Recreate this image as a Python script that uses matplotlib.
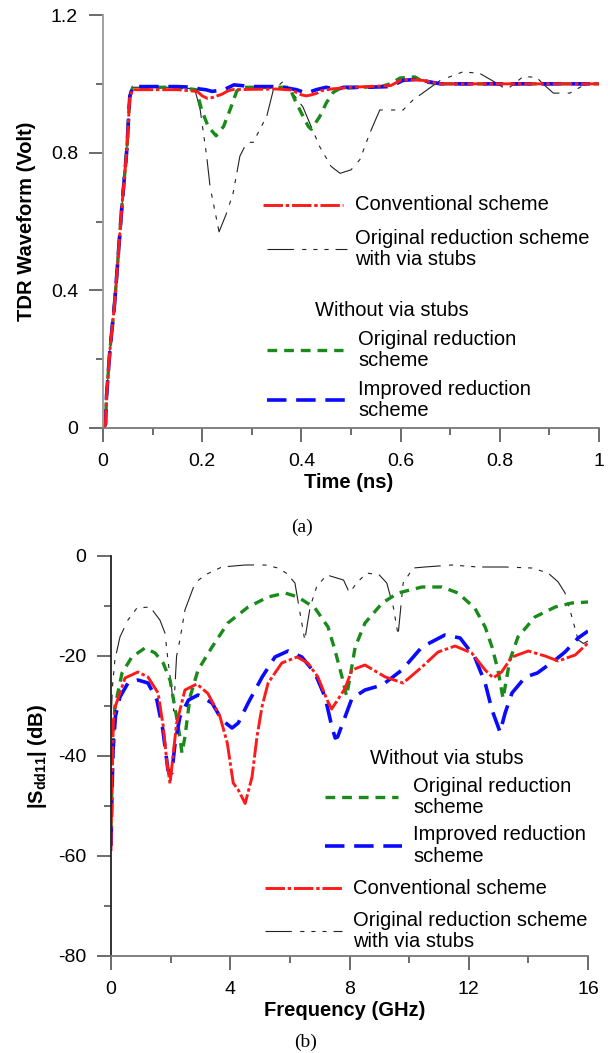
import matplotlib
matplotlib.use("Agg")
import matplotlib.pyplot as plt

plt.rcParams['font.family'] = ['Liberation Sans', 'DejaVu Sans']
plt.rcParams['mathtext.fontset'] = 'custom'
plt.rcParams['mathtext.rm'] = 'Liberation Sans'
plt.rcParams['mathtext.bf'] = 'Liberation Sans:bold'
plt.rcParams['lines.scale_dashes'] = False
plt.rcParams['axes.unicode_minus'] = False

# ---- (a) TDR waveforms ----
t_conv = [0, 0.005, 0.007, 0.014, 0.024, 0.03, 0.038, 0.048, 0.054, 0.06, 0.1, 0.15, 0.19, 0.2, 0.21,
          0.22, 0.23, 0.24, 0.25, 0.26, 0.3, 0.35, 0.38, 0.39, 0.4, 0.41, 0.42, 0.43, 0.44, 0.46, 0.5,
          0.55, 0.58, 0.6, 0.62, 0.645, 0.68, 0.8, 0.9, 1.0]
v_conv = [0, 0.01, 0.09, 0.227, 0.372, 0.488, 0.643, 0.808, 0.963, 0.983, 0.983, 0.983, 0.978, 0.965,
          0.958, 0.96, 0.965, 0.97, 0.978, 0.983, 0.984, 0.985, 0.982, 0.975, 0.968, 0.965, 0.968, 0.972,
          0.98, 0.985, 0.99, 0.993, 0.995, 1.01, 1.012, 1.01, 1.0, 1.0, 1.0, 1.0]

t_stub = [0, 0.005, 0.007, 0.014, 0.024, 0.03, 0.038, 0.048, 0.054, 0.06, 0.1, 0.15, 0.185, 0.196,
          0.209, 0.216, 0.234, 0.248, 0.262, 0.276, 0.29, 0.303, 0.317, 0.33, 0.343, 0.363, 0.377, 0.403,
          0.437, 0.46, 0.478, 0.5, 0.518, 0.538, 0.558, 0.605, 0.625, 0.68, 0.726, 0.76, 0.79, 0.814,
          0.847, 0.874, 0.887, 0.908, 0.941, 0.968, 0.98, 1.0]
v_stub = [0, 0.01, 0.09, 0.227, 0.372, 0.488, 0.643, 0.808, 0.963, 0.99, 0.99, 0.99, 0.985, 0.924,
          0.79, 0.70, 0.57, 0.62, 0.68, 0.79, 0.83, 0.83, 0.87, 0.905, 0.98, 1.007, 0.983, 0.933,
          0.817, 0.76, 0.74, 0.75, 0.78, 0.857, 0.924, 0.924, 0.953, 1.01, 1.035, 1.03, 1.005, 0.983,
          1.021, 1.019, 1.0, 0.973, 0.973, 0.995, 1.0, 1.0]

t_orig = [0, 0.005, 0.007, 0.014, 0.024, 0.03, 0.038, 0.048, 0.054, 0.06, 0.1, 0.15, 0.188, 0.199,
          0.212, 0.228, 0.243, 0.256, 0.27, 0.283, 0.33, 0.376, 0.387, 0.4, 0.414, 0.42, 0.437, 0.45,
          0.464, 0.477, 0.52, 0.56, 0.579, 0.599, 0.629, 0.645, 0.68, 0.8, 0.9, 1.0]
v_orig = [0, 0.01, 0.09, 0.227, 0.372, 0.488, 0.643, 0.808, 0.963, 0.99, 0.99, 0.99, 0.983, 0.924,
          0.876, 0.849, 0.876, 0.924, 0.98, 0.99, 0.99, 0.99, 0.953, 0.915, 0.876, 0.868, 0.905, 0.944,
          0.975, 0.986, 0.99, 0.992, 1.0, 1.017, 1.02, 1.006, 1.0, 1.0, 1.0, 1.0]

t_impr = [0, 0.005, 0.007, 0.014, 0.024, 0.03, 0.038, 0.048, 0.054, 0.06, 0.1, 0.15, 0.183, 0.195,
          0.207, 0.22, 0.244, 0.264, 0.3, 0.355, 0.39, 0.41, 0.43, 0.45, 0.471, 0.485, 0.53, 0.579,
          0.605, 0.632, 0.68, 0.8, 0.9, 1.0]
v_impr = [0, 0.01, 0.09, 0.227, 0.372, 0.488, 0.643, 0.808, 0.963, 0.992, 0.992, 0.992, 0.99, 0.985,
          0.983, 0.978, 0.983, 0.997, 0.992, 0.992, 0.983, 0.973, 0.983, 0.99, 0.983, 0.99, 0.99, 0.992,
          1.01, 1.013, 1.0, 1.0, 1.0, 1.0]

# ---- (b) |Sdd11| ----
f_conv = [0, 0.03, 0.08, 0.15, 0.3, 0.47, 0.9, 1.24, 1.58, 1.75, 1.88, 1.98, 2.08, 2.2, 2.48, 2.88,
          3.25, 3.65, 3.9, 4.1, 4.27, 4.5, 4.73, 4.9, 5.07, 5.27, 5.73, 6.24, 6.6, 6.94, 7.25, 7.4, 7.6,
          7.85, 8.08, 8.52, 9.2, 9.8, 10.43, 10.97, 11.54, 12.1, 12.55, 12.82, 13.1, 13.45, 14.0, 14.56,
          15.0, 15.57, 16.0]
s_conv = [-59, -45, -33, -30, -27.4, -24.4, -23.2, -24.2, -27.4, -34, -41.5, -45.5, -40, -33.5, -26.8,
          -25.6, -27.5, -32, -37.4, -45.4, -46.8, -49.5, -44.2, -36, -30, -25.4, -21.4, -20.2, -21.4,
          -24.2, -28.8, -30.6, -28.8, -26.5, -22.8, -21.8, -24.2, -25.4, -22.2, -19.2, -18, -19.4,
          -22.8, -24.4, -23.2, -20.2, -19, -20, -21, -19.8, -17.4]

f_impr = [0, 0.03, 0.07, 0.15, 0.3, 0.57, 0.9, 1.24, 1.54, 1.74, 1.91, 2.04, 2.15, 2.31, 2.6, 2.92,
          3.39, 3.72, 4.06, 4.27, 4.6, 5.07, 5.5, 5.94, 6.4, 6.84, 7.18, 7.41, 7.52, 7.6, 7.85, 8.08,
          8.52, 9.1, 9.76, 10.43, 11.2, 11.71, 12.2, 12.55, 12.78, 13.05, 13.22, 13.45, 13.9, 14.3,
          14.9, 15.23, 15.67, 16.0]
s_impr = [-58, -48, -38.8, -32, -28.2, -25.4, -24.8, -25.4, -28.8, -34.8, -42.8, -43.4, -37.4, -32.2,
          -28.8, -27.8, -29.4, -32.8, -34.4, -33.4, -29.4, -24.2, -20.2, -19, -20.2, -23.4, -28.2,
          -34.2, -36.4, -36.2, -32.2, -28.5, -26.8, -25.8, -22.8, -18.2, -15.8, -16.4, -20.2, -25.4,
          -30.8, -35.2, -31.4, -27.4, -24.2, -23.4, -20.8, -19.2, -16.4, -15]

f_orig = [0, 0.05, 0.13, 0.37, 0.7, 1.14, 1.48, 1.75, 1.98, 2.08, 2.2, 2.31, 2.38, 2.48, 2.65, 2.92,
          3.39, 3.92, 4.6, 5.27, 5.84, 6.27, 6.84, 7.28, 7.51, 7.75, 7.9, 8.02, 8.19, 8.52, 9.1, 9.63,
          10.43, 11.1, 11.64, 12.2, 12.55, 12.78, 12.98, 13.15, 13.38, 13.65, 14.22, 14.9, 15.46, 16.0]
s_orig = [-55, -40, -30.2, -23.4, -20.2, -18.4, -19.4, -21.4, -24.8, -28.2, -32.2, -36.2, -39.4, -36.2,
          -28.2, -22.8, -18.2, -13.4, -10.2, -8.2, -7.4, -8.2, -10.4, -14.2, -18.8, -24.2, -28, -24.2,
          -18.2, -13.4, -9.4, -7.4, -6.2, -6.2, -7.4, -10.4, -14.2, -18.2, -22.8, -28.5, -20.8, -16.2,
          -12.2, -10.2, -9.4, -9.2]

f_stub = [0, 0.05, 0.13, 0.3, 0.57, 0.87, 1.31, 1.64, 1.81, 1.91, 2.04, 2.1, 2.2, 2.31, 2.48, 2.82,
          3.15, 3.72, 4.5, 5.17, 5.6, 5.9, 6.17, 6.34, 6.5, 6.68, 6.9, 7.24, 7.8, 8.0, 8.24, 8.58, 9.0,
          9.25, 9.47, 9.63, 9.8, 10.14, 10.53, 11.44, 12.31, 13.22, 14.12, 14.66, 15.0, 15.23, 15.46,
          15.67, 15.85, 16.0]
s_stub = [-33, -26, -20.8, -16.2, -12.8, -10.4, -10.2, -12.8, -15.4, -20.8, -26.8, -31, -20, -16.8,
          -10.8, -5.4, -3.8, -2.2, -1.8, -1.8, -2.4, -3.5, -5.4, -11.4, -16.8, -10.2, -6.1, -3.8, -4.8,
          -7.4, -5.4, -3.4, -3.8, -5.4, -10.2, -15.8, -5.4, -2.4, -2.2, -1.8, -2.2, -2.2, -2.4, -3.4,
          -5.2, -7.4, -12.2, -16.8, -17.5, -17]

RED = dict(color='#ff1a1a', lw=2.1, dashes=(14, 2, 2.5, 2))
BLACK = dict(color='#222222', lw=0.8, dashes=(19, 6, 3, 5, 3, 5, 3, 5))
GREEN = dict(color='#1a8a1a', lw=2.4, dashes=(7, 5))
BLUE = dict(color='#0a0aff', lw=2.6, dashes=(14, 7))

FS = 14.5

fig = plt.figure(figsize=(6.10, 10.53), dpi=100)


def style_axes(ax, spine_color):
    for s in ['top', 'right']:
        ax.spines[s].set_visible(False)
    ax.spines['left'].set_color(spine_color)
    ax.spines['bottom'].set_color('#777777')
    ax.spines['left'].set_linewidth(1.3)
    ax.spines['bottom'].set_linewidth(1.3)
    ax.tick_params(which='major', direction='out', length=10, width=1.1, color='#444444',
                   labelsize=14, pad=8)
    ax.tick_params(which='minor', direction='out', length=5, width=1.1, color='#444444')


def legend_entry(ax, x0, x1, y, style, label, tx):
    ax.plot([x0, x1], [y, y], transform=ax.transAxes, clip_on=False, **style)
    ax.text(tx, y, label, transform=ax.transAxes, fontsize=FS, va='center', ha='left',
            linespacing=1.15)


# top panel
ax1 = fig.add_axes([103 / 610, 1 - 428 / 1053, 496 / 610, 413 / 1053])
ax1.plot(t_stub, v_stub, **BLACK)
ax1.plot(t_orig, v_orig, **GREEN)
ax1.plot(t_impr, v_impr, **BLUE)
ax1.plot(t_conv, v_conv, **RED)
ax1.set_xlim(0, 1)
ax1.set_ylim(0, 1.2)
ax1.set_xticks([0, 0.2, 0.4, 0.6, 0.8, 1.0])
ax1.set_xticklabels(['0', '0.2', '0.4', '0.6', '0.8', '1'])
ax1.set_xticks([0.1, 0.3, 0.5, 0.7, 0.9], minor=True)
ax1.set_yticks([0, 0.4, 0.8, 1.2])
ax1.set_yticklabels(['0', '0.4', '0.8', '1.2'])
ax1.set_yticks([0.2, 0.6, 1.0], minor=True)
style_axes(ax1, '#999999')
ax1.set_xlabel('Time (ns)', fontsize=FS, fontweight='bold', va='center')
ax1.xaxis.set_label_coords(0.495, -55 / 413)
ax1.set_ylabel('TDR Waveform (Volt)', fontsize=FS, fontweight='bold', va='center')
ax1.yaxis.set_label_coords(-76 / 496, 0.5)

legend_entry(ax1, 0.3226, 0.4839, 0.540, RED, 'Conventional scheme', 0.508)
legend_entry(ax1, 0.3306, 0.4919, 0.4334, BLACK, 'Original reduction scheme\nwith via stubs', 0.508)
ax1.text(0.4274, 0.2833, 'Without via stubs', transform=ax1.transAxes, fontsize=FS, va='center')
legend_entry(ax1, 0.3306, 0.4839, 0.1889, GREEN, 'Original reduction\nscheme', 0.514)
legend_entry(ax1, 0.3306, 0.4919, 0.0678, BLUE, 'Improved reduction\nscheme', 0.514)

fig.text(302 / 610, 1 - 527 / 1053, '(a)', fontsize=14, family='Liberation Serif',
         ha='center', va='center')

# bottom panel
ax2 = fig.add_axes([111 / 610, 1 - 956 / 1053, 477 / 610, 400 / 1053])
ax2.plot(f_stub, s_stub, **BLACK)
ax2.plot(f_orig, s_orig, **GREEN)
ax2.plot(f_impr, s_impr, **BLUE)
ax2.plot(f_conv, s_conv, **RED)
ax2.set_xlim(0, 16)
ax2.set_ylim(-80, 0)
ax2.set_xticks([0, 4, 8, 12, 16])
ax2.set_xticks([2, 6, 10, 14], minor=True)
ax2.set_yticks([-80, -60, -40, -20, 0])
ax2.set_yticks([-70, -50, -30, -10], minor=True)
style_axes(ax2, '#222222')
ax2.set_xlabel('Frequency (GHz)', fontsize=FS, fontweight='bold', va='center')
ax2.xaxis.set_label_coords(0.49, -54 / 400)
ax2.set_ylabel(r'|S$_{\mathbf{dd11}}$| (dB)', fontsize=FS, fontweight='bold', va='center')
ax2.yaxis.set_label_coords(-74 / 477, 0.5)

ax2.text(0.543, 0.4925, 'Without via stubs', transform=ax2.transAxes, fontsize=FS, va='center')
legend_entry(ax2, 0.4486, 0.6017, 0.3975, GREEN, 'Original reduction\nscheme', 0.633)
legend_entry(ax2, 0.4486, 0.610, 0.276, BLUE, 'Improved reduction\nscheme', 0.633)
legend_entry(ax2, 0.3229, 0.4843, 0.17, RED, 'Conventional scheme', 0.5073)
legend_entry(ax2, 0.3229, 0.4843, 0.0625, BLACK, 'Original reduction scheme\nwith via stubs', 0.5073)

fig.text(306 / 610, 1 - 1042 / 1053, '(b)', fontsize=14, family='Liberation Serif',
         ha='center', va='center')

fig.savefig('out.png', dpi=100)
